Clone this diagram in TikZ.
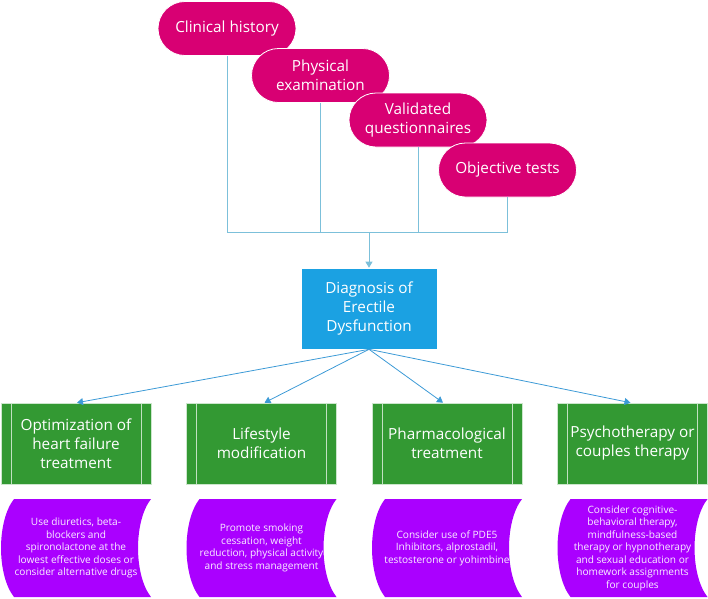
\documentclass[tikz,border=0pt]{standalone}
\usepackage{fontspec}
\setmainfont{Open Sans}
\usetikzlibrary{arrows.meta}
\definecolor{pinkc}{HTML}{D80073}
\definecolor{greenc}{HTML}{339933}
\definecolor{diagc}{HTML}{1BA1E2}
\definecolor{wavec}{HTML}{AA00FF}
\definecolor{connc}{HTML}{7CC0DA}
\definecolor{arrc}{HTML}{3C9AD6}
\begin{document}
\begin{tikzpicture}[x=1pt,y=-1pt,
  pill/.style={fill=pinkc, draw=white, line width=0.8pt, rounded corners=27pt,
    minimum width=138pt, minimum height=54pt, inner sep=0pt, text=white,
    align=center, font=\fontsize{15.3}{19.3}\selectfont},
  diag/.style={fill=diagc, draw=white, line width=0.6pt, minimum width=136pt,
    minimum height=81pt, inner sep=0pt, text=white, align=center,
    font=\fontsize{15.3}{19.3}\selectfont},
  treat/.style={fill=greenc, draw=white!75!greenc, line width=0.6pt,
    minimum width=150pt, minimum height=81pt, inner sep=0pt, text=white,
    align=center, font=\fontsize{15.3}{19}\selectfont,
    path picture={
      \draw[white!70!greenc, line width=0.8pt]
        ([xshift=10pt]path picture bounding box.north west) --
        ([xshift=10pt]path picture bounding box.south west);
      \draw[white!70!greenc, line width=0.8pt]
        ([xshift=-10pt]path picture bounding box.north east) --
        ([xshift=-10pt]path picture bounding box.south east);}},
  wave/.style={minimum width=150pt, minimum height=98pt, inner sep=0pt,
    text=white!94!wavec, align=center, font=\fontsize{10.1}{12.5}\selectfont,
    path picture={
      \fill[wavec]
        ([xshift=13pt]path picture bounding box.north west) --
        (path picture bounding box.north east)
        .. controls ([xshift=-17.3pt,yshift=-22pt]path picture bounding box.north east)
        and ([xshift=-17.3pt,yshift=22pt]path picture bounding box.south east)
        .. (path picture bounding box.south east) --
        ([xshift=13pt]path picture bounding box.south west)
        .. controls ([xshift=-4.3pt,yshift=22pt]path picture bounding box.south west)
        and ([xshift=-4.3pt,yshift=-22pt]path picture bounding box.north west)
        .. ([xshift=13pt]path picture bounding box.north west) -- cycle;}},
  conn/.style={draw=connc, line width=1pt},
  arr/.style={draw=arrc, line width=0.8pt, -{Triangle[width=7pt,length=6pt]}}]
\useasboundingbox (0,0) rectangle (708,598);

% pink pills
\node[pill] (ch) at (227,28.5) {Clinical history};
\node[pill] (pe) at (320.5,75.5) {Physical\\examination};
\node[pill] (vq) at (418,120) {Validated\\questionnaires};
\node[pill] (ot) at (507.5,170) {Objective tests};

% bus
\coordinate (bus) at (369,232);
\draw[conn] (ch.south) |- (bus);
\draw[conn] (pe.south) |- (bus);
\draw[conn] (vq.south) |- (bus);
\draw[conn] (ot.south) |- (bus);

% diagnosis
\node[diag] (dx) at (369,308.5) {Diagnosis of\\Erectile\\Dysfunction};
\draw[arr, draw=connc, fill=arrc] (bus) -- (dx.north);

% treatments
\node[treat] (g1) at (76,443.5) {Optimization of\\heart failure\\treatment};
\node[treat] (g2) at (261.5,443.5) {Lifestyle\\modification};
\node[treat] (g3) at (447,443.5) {Pharmacological\\treatment};
\node[treat] (g4) at (632.5,443.5) {Psychotherapy or\\couples therapy};

\draw[arr] (dx.south) -- ([xshift=1pt]g1.north);
\draw[arr] (dx.south) -- ([xshift=3pt]g2.north);
\draw[arr] (dx.south) -- ([xshift=-4pt]g3.north);
\draw[arr] (dx.south) -- ([xshift=-2pt]g4.north);

% details
\node[wave] (w1) at (76,548) {Use diuretics, beta-\\blockers and\\spironolactone at the\\lowest effective doses or\\consider alternative drugs};
\node[wave] (w2) at (261.5,548) {Promote smoking\\cessation, weight\\reduction, physical activity\\and stress management};
\node[wave] (w3) at (447,548) {Consider use of PDE5\\Inhibitors, alprostadil,\\testosterone or yohimbine};
\node[wave] (w4) at (632.5,548) {Consider cognitive-\\behavioral therapy,\\mindfulness-based\\therapy or hypnotherapy\\and sexual education or\\homework assignments\\for couples};
\end{tikzpicture}
\end{document}
